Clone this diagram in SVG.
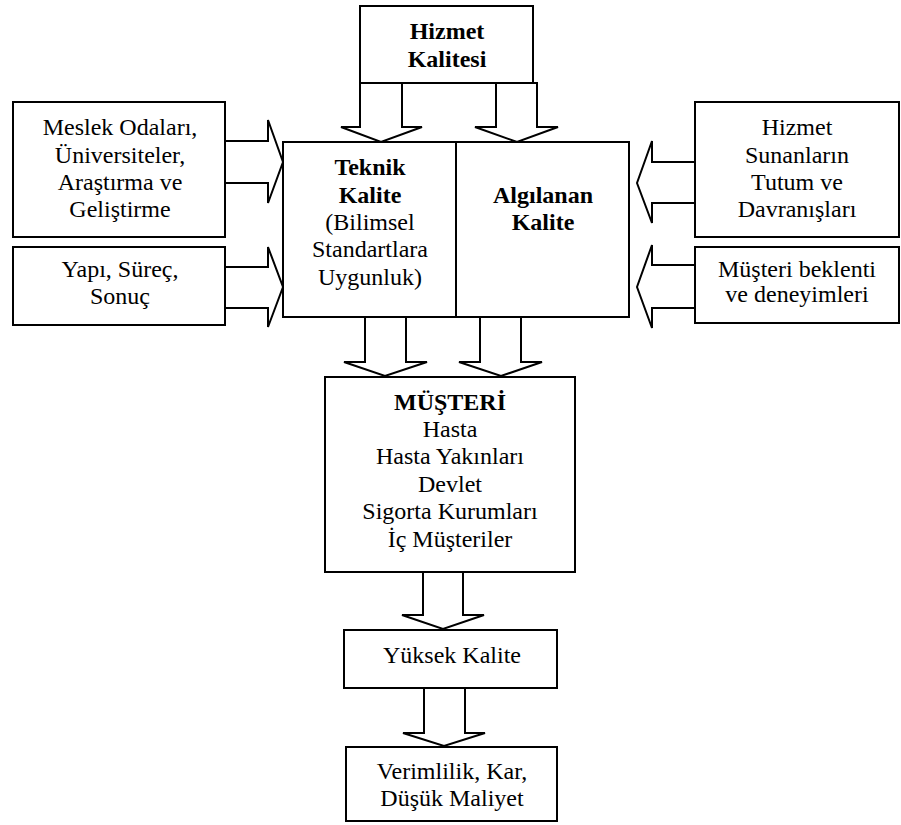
<svg xmlns="http://www.w3.org/2000/svg" width="901" height="825" viewBox="0 0 901 825">
  <style>
    .box { fill: #fff; stroke: #000; stroke-width: 2; }
    .arrow { fill: #fff; stroke: #000; stroke-width: 2; stroke-linejoin: miter; }
    text { font-family: "Liberation Serif", "DejaVu Serif", serif; font-size: 24px; fill: #000; text-anchor: middle; }
    .b { font-weight: bold; }
  </style>
  <rect width="901" height="825" fill="#fff"/>

  <!-- block arrows -->
  <g id="connectors">
    <path class="arrow" d="M360,83 V127 H341 L381,142 L422,127 H402 V83 Z"/>
    <path class="arrow" d="M496,83 V127 H475 L517,142 L558,127 H537 V83 Z"/>
    <path class="arrow" d="M225,141 H268 V120 L283,162 L268,203 V183 H225 Z"/>
    <path class="arrow" d="M225,267 H268 V247 L283,287 L268,327 V308 H225 Z"/>
    <path class="arrow" d="M695,162 H652 V141 L637,183 L652,223 V203 H695 Z"/>
    <path class="arrow" d="M695,265 H652 V245 L637,287 L652,328 V308 H695 Z"/>
    <path class="arrow" d="M365,317 V362 H344 L385,376 L427,362 H406 V317 Z"/>
    <path class="arrow" d="M480,317 V362 H459 L501,376 L542,362 H521 V317 Z"/>
    <path class="arrow" d="M423,572 V615 H402 L443,629 L484,615 H463 V572 Z"/>
    <path class="arrow" d="M424,688 V733 H403 L444,746 L485,733 H465 V688 Z"/>
  </g>

  <g id="hizmet-kalitesi">
    <rect class="box" x="360" y="6" width="173" height="77"/>
    <text class="b" x="447" y="39">Hizmet</text>
    <text class="b" x="447" y="67">Kalitesi</text>
  </g>

  <g id="teknik-kalite">
    <rect class="box" x="283" y="142" width="173" height="175"/>
    <text class="b" x="370" y="175">Teknik</text>
    <text class="b" x="370" y="203">Kalite</text>
    <text x="370" y="230">(Bilimsel</text>
    <text x="370" y="257">Standartlara</text>
    <text x="370" y="285">Uygunluk)</text>
  </g>

  <g id="algilanan-kalite">
    <rect class="box" x="456" y="142" width="173" height="175"/>
    <text class="b" x="543" y="203">Algılanan</text>
    <text class="b" x="543" y="230">Kalite</text>
  </g>

  <g id="meslek-odalari">
    <rect class="box" x="13" y="102" width="212" height="135"/>
    <text x="120" y="135">Meslek Odaları,</text>
    <text x="120" y="163">Üniversiteler,</text>
    <text x="120" y="190">Araştırma ve</text>
    <text x="120" y="217">Geliştirme</text>
  </g>

  <g id="yapi-surec-sonuc">
    <rect class="box" x="13" y="247" width="212" height="78"/>
    <text x="120" y="277">Yapı, Süreç,</text>
    <text x="120" y="304">Sonuç</text>
  </g>

  <g id="hizmet-sunanlar">
    <rect class="box" x="695" y="102" width="204" height="135"/>
    <text x="797" y="135">Hizmet</text>
    <text x="797" y="163">Sunanların</text>
    <text x="797" y="190">Tutum ve</text>
    <text x="797" y="217">Davranışları</text>
  </g>

  <g id="musteri-beklenti">
    <rect class="box" x="695" y="247" width="204" height="76"/>
    <text x="797" y="277">Müşteri beklenti</text>
    <text x="797" y="302">ve deneyimleri</text>
  </g>

  <g id="musteri">
    <rect class="box" x="325" y="377" width="250" height="195"/>
    <text class="b" x="450" y="410">MÜŞTERİ</text>
    <text x="450" y="437">Hasta</text>
    <text x="450" y="464">Hasta Yakınları</text>
    <text x="450" y="492">Devlet</text>
    <text x="450" y="519">Sigorta Kurumları</text>
    <text x="450" y="547">İç Müşteriler</text>
  </g>

  <g id="yuksek-kalite">
    <rect class="box" x="344" y="630" width="213" height="58"/>
    <text x="452" y="663">Yüksek Kalite</text>
  </g>

  <g id="verimlilik">
    <rect class="box" x="346" y="747" width="211" height="74"/>
    <text x="452" y="779">Verimlilik, Kar,</text>
    <text x="452" y="806">Düşük Maliyet</text>
  </g>
</svg>
